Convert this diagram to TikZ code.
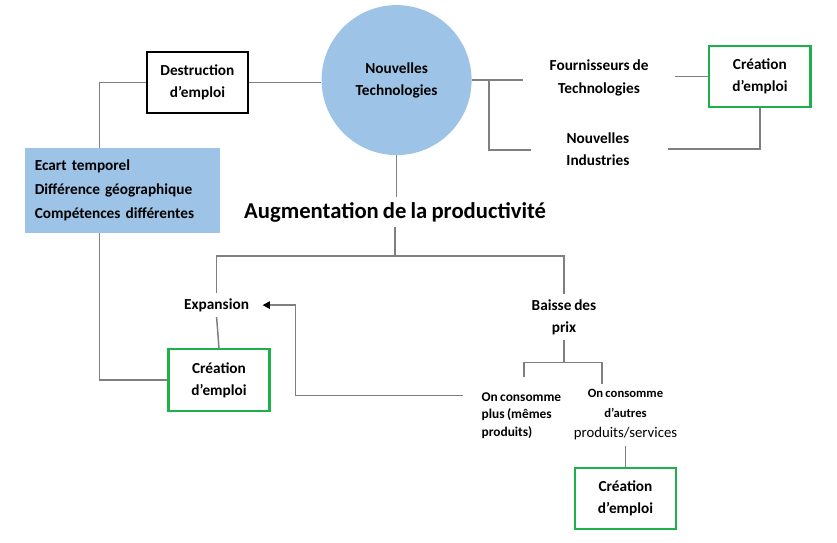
\documentclass[tikz,border=0pt]{standalone}
\usepackage{fontspec}
\setmainfont{Carlito}[WordSpace=0.8]
\usetikzlibrary{arrows.meta}
\definecolor{techblue}{HTML}{9DC3E6}
\definecolor{emploigreen}{HTML}{1DB04B}
\definecolor{linegray}{HTML}{7F7F7F}

\begin{document}
\begin{tikzpicture}[
  box/.style={draw,line width=2pt,fill=white,minimum width=3.37cm,minimum height=2.05cm,align=center,font=\fontsize{14.5}{21}\selectfont\bfseries},
  creabox/.style={box,draw=emploigreen},
  txt/.style={align=center,inner sep=5pt,font=\fontsize{14.5}{21}\selectfont\bfseries},
  link/.style={draw=linegray,line width=1.4pt}]
  \useasboundingbox (0,0) rectangle (27.9,-18.07);
  \node[circle,fill=techblue,minimum size=5cm,txt] (tech) at (13.22,-2.67) {Nouvelles\\Technologies};
  \node[box] (destr) at (6.58,-2.75) {Destruction\\d’emploi};
  \node[fill=techblue,minimum width=6.5cm,minimum height=2.83cm,text width=5.84cm,inner xsep=0.33cm,align=left,font=\fontsize{14.5}{22.7}\selectfont\bfseries]
    (ecart) at (4.08,-6.35) {Ecart temporel\\Différence géographique\\Compétences différentes};
  \node[txt,font=\fontsize{21.5}{26}\selectfont\bfseries] (augm) at (13.17,-7.07) {Augmentation de la productivité};
  \node[txt] (expan) at (7.22,-10.17) {Expansion};
  \node[creabox] (crea1) at (7.3,-12.67) {Création\\d’emploi};
  \node[txt] (baisse) at (18.8,-10.57) {Baisse des\\prix};
  \node[anchor=west,align=left,inner sep=5pt,font=\fontsize{12.7}{16.5}\selectfont\bfseries]
    (plus) at (15.87,-13.85) {On consomme\\plus (mêmes\\produits)};
  \node[align=center,inner sep=5pt,font=\fontsize{12}{19}\selectfont\bfseries]
    (autres) at (20.85,-13.83) {On consomme\\d’autres\\{\mdseries\fontsize{14}{20}\selectfont produits/services}};
  \node[creabox] (crea3) at (20.85,-16.62) {Création\\d’emploi};
  \node[txt] (fourn) at (19.97,-2.6) {Fournisseurs de\\Technologies};
  \node[txt] (indus) at (19.93,-4.97) {Nouvelles\\Industries};
  \node[creabox] (crea2) at (25.33,-2.55) {Création\\d’emploi};
  \coordinate (split) at (13.17,-8.53);
  \coordinate (split2) at (18.8,-12.08);
  \coordinate (bl) at (17.47,-12.57);
  \coordinate (br) at (20.07,-12.8);
  \coordinate (plusin) at (15.43,-13.18);
  \coordinate (rj) at (16.3,-2.67);
  \coordinate (r1) at (17.43,-2.67);
  \coordinate (r2) at (17.7,-5.0);
  \coordinate (r3) at (22.5,-2.55);
  \coordinate (r4) at (22.27,-4.97);
  \draw[link] (destr.east) -- (destr.east -| tech.west);
  \draw[link] (destr.west) -| ([xshift=-0.77cm]ecart.north);
  \draw[link] ([xshift=-0.77cm]ecart.south) |- (crea1.west);
  \draw[link] (tech.south) -- (tech.south |- augm.north);
  \draw[link] (augm.south) -- (split);
  \draw[link] (expan.north) |- (split) -| (baisse.north);
  \draw[link] (expan.south) -- (crea1.north);
  \draw[link] (baisse.south) -- (split2);
  \draw[link] (bl) |- (split2) -| (br);
  \draw[link,-{Triangle[length=7pt,width=7pt,color=black]}] (plusin) -| ([xshift=1.37cm]expan.east) -- ([xshift=0.27cm]expan.east);
  \draw[link] (autres.south) -- (crea3.north);
  \draw[link] (tech.east) -- (r1);
  \draw[link] (rj) |- (r2);
  \draw[link] (r3) -- (crea2.west);
  \draw[link] (r4) -| (crea2.south);
\end{tikzpicture}
\end{document}
